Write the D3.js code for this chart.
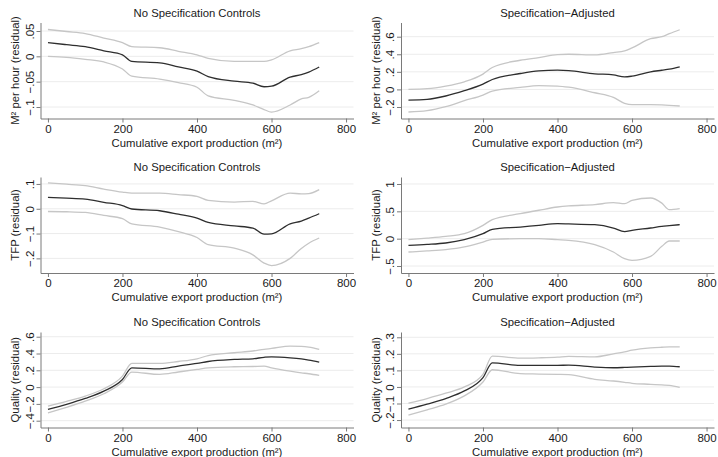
<!DOCTYPE html>
<html>
<head>
<meta charset="utf-8">
<script src="https://cdn.jsdelivr.net/npm/d3@7"></script>
<style>
  body { margin: 0; background: #fff; }
  text { font-family: "Liberation Sans", Arial, sans-serif; fill: #1a1a1a; }
  .axis path, .axis line { stroke: #7a7a7a; }
</style>
</head>
<body>
<svg id="chart" width="718" height="457"></svg>
<script>
// x grid shared by every panel (cumulative export production, m2)
const xs = [0, 50, 100, 150, 200, 225, 300, 350, 400, 430, 500, 550, 580, 600, 650, 680, 700, 728];

// M2 per hour, no specification controls
const m2NoMid = [0.027, 0.023, 0.019, 0.011, 0.003, -0.010, -0.013, -0.021, -0.029, -0.040, -0.049, -0.053, -0.060, -0.059, -0.041, -0.036, -0.031, -0.021];
const m2NoHi  = [0.053, 0.049, 0.045, 0.036, 0.027, 0.019, 0.017, 0.010, 0.003, -0.004, -0.010, -0.010, -0.010, -0.007, 0.011, 0.015, 0.019, 0.027];
const m2NoLo  = [0.000, -0.002, -0.006, -0.011, -0.025, -0.039, -0.045, -0.052, -0.061, -0.078, -0.087, -0.096, -0.105, -0.110, -0.096, -0.084, -0.081, -0.068];

// M2 per hour, specification-adjusted
const m2AdjMid = [-0.121, -0.113, -0.075, -0.015, 0.060, 0.113, 0.181, 0.211, 0.219, 0.214, 0.178, 0.165, 0.143, 0.151, 0.200, 0.218, 0.230, 0.257];
const m2AdjHi  = [0.000, 0.008, 0.038, 0.087, 0.174, 0.249, 0.332, 0.362, 0.396, 0.400, 0.392, 0.419, 0.438, 0.472, 0.577, 0.600, 0.634, 0.679];
const m2AdjLo  = [-0.257, -0.242, -0.196, -0.128, -0.064, -0.019, 0.023, 0.042, 0.038, 0.025, -0.038, -0.091, -0.158, -0.174, -0.174, -0.177, -0.181, -0.189];

// TFP, no specification controls
const tfpNoMid = [0.046, 0.043, 0.039, 0.026, 0.013, -0.001, -0.008, -0.022, -0.038, -0.055, -0.069, -0.078, -0.102, -0.101, -0.061, -0.050, -0.038, -0.020];
const tfpNoHi  = [0.104, 0.099, 0.093, 0.079, 0.067, 0.063, 0.063, 0.057, 0.050, 0.034, 0.027, 0.030, 0.020, 0.032, 0.063, 0.060, 0.061, 0.077];
const tfpNoLo  = [-0.011, -0.012, -0.015, -0.027, -0.040, -0.061, -0.074, -0.092, -0.116, -0.145, -0.159, -0.186, -0.219, -0.229, -0.200, -0.160, -0.139, -0.118];

// TFP, specification-adjusted
const tfpAdjMid = [-0.122, -0.105, -0.079, -0.018, 0.091, 0.171, 0.213, 0.245, 0.274, 0.270, 0.256, 0.195, 0.128, 0.152, 0.195, 0.225, 0.238, 0.256];
const tfpAdjHi  = [-0.018, 0.010, 0.043, 0.091, 0.244, 0.348, 0.457, 0.520, 0.579, 0.600, 0.622, 0.659, 0.640, 0.701, 0.744, 0.650, 0.530, 0.549];
const tfpAdjLo  = [-0.244, -0.225, -0.201, -0.152, -0.061, -0.012, 0.000, 0.000, -0.018, -0.030, -0.110, -0.244, -0.366, -0.396, -0.323, -0.140, -0.043, -0.043];

// Quality, no specification controls
const qNoMid = [-0.266, -0.205, -0.135, -0.048, 0.091, 0.230, 0.218, 0.250, 0.282, 0.305, 0.329, 0.337, 0.355, 0.361, 0.349, 0.335, 0.321, 0.298];
const qNoHi  = [-0.226, -0.170, -0.107, -0.020, 0.131, 0.282, 0.282, 0.305, 0.337, 0.375, 0.409, 0.430, 0.450, 0.460, 0.488, 0.485, 0.476, 0.448];
const qNoLo  = [-0.306, -0.240, -0.167, -0.079, 0.060, 0.179, 0.151, 0.180, 0.210, 0.230, 0.242, 0.245, 0.250, 0.230, 0.190, 0.170, 0.159, 0.139];

// Quality, specification-adjusted
const qAdjMid = [-0.134, -0.104, -0.070, -0.024, 0.056, 0.146, 0.130, 0.130, 0.130, 0.132, 0.120, 0.116, 0.118, 0.120, 0.124, 0.126, 0.126, 0.122];
const qAdjHi  = [-0.098, -0.070, -0.038, 0.000, 0.076, 0.186, 0.174, 0.176, 0.180, 0.185, 0.182, 0.200, 0.212, 0.222, 0.236, 0.240, 0.242, 0.242];
const qAdjLo  = [-0.170, -0.138, -0.104, -0.054, 0.030, 0.104, 0.080, 0.078, 0.076, 0.074, 0.046, 0.036, 0.028, 0.022, 0.016, 0.012, 0.010, -0.002];

const xTicks = [0, 200, 400, 600, 800];
const m2NoTicks = [-0.1, -0.05, 0, 0.05];
const m2AdjTicks = [-0.2, 0, 0.2, 0.4, 0.6];
const tfpNoTicks = [-0.2, -0.1, 0, 0.1];
const tfpAdjTicks = [-0.5, 0, 0.5, 1];
const qNoTicks = [-0.4, -0.2, 0, 0.2, 0.4, 0.6];
const qAdjTicks = [-0.2, -0.1, 0, 0.1, 0.2, 0.3];

const titles = ['No Specification Controls', 'Specification\u2212Adjusted'];
const yTitles = ['M\u00b2 per hour (residual)', 'TFP (residual)', 'Quality (residual)'];
const xTitle = 'Cumulative export production (m\u00b2)';

const panels = [
  { row: 0, col: 0, mid: m2NoMid, hi: m2NoHi, lo: m2NoLo, ticks: m2NoTicks, dom: [-0.1227, 0.0668] },
  { row: 0, col: 1, mid: m2AdjMid, hi: m2AdjHi, lo: m2AdjLo, ticks: m2AdjTicks, dom: [-0.331, 0.7615] },
  { row: 1, col: 0, mid: tfpNoMid, hi: tfpNoHi, lo: tfpNoLo, ticks: tfpNoTicks, dom: [-0.259, 0.128] },
  { row: 1, col: 1, mid: tfpAdjMid, hi: tfpAdjHi, lo: tfpAdjLo, ticks: tfpAdjTicks, dom: [-0.628, 1.128] },
  { row: 2, col: 0, mid: qNoMid, hi: qNoHi, lo: qNoLo, ticks: qNoTicks, dom: [-0.481, 0.656] },
  { row: 2, col: 1, mid: qAdjMid, hi: qAdjHi, lo: qAdjLo, ticks: qAdjTicks, dom: [-0.245, 0.332] }
];

// layout
const colLeft = [40.5, 401];
const plotW = 313;
const rowTop = [22.5, 177, 332];
const rowBottom = [118.5, 273, 427.5];

const svg = d3.select('#chart');

// Stata style labels: .05, -.1, 0
const fmt = (v) => {
  let s = String(+v.toFixed(3));
  s = s.replace(/^(-?)0\./, '$1.');
  return s.replace('-', '\u2212');
};

const drawPanel = (p) => {
  const left = colLeft[p.col];
  const top = rowTop[p.row];
  const bottom = rowBottom[p.row];

  const x = d3.scaleLinear().domain([-20, 820]).range([left, left + plotW]);
  const y = d3.scaleLinear().domain(p.dom).range([bottom, top]);

  const g = svg.append('g');

  // gridlines
  g.selectAll('line.grid')
    .data(p.ticks)
    .enter()
    .append('line')
    .attr('class', 'grid')
    .attr('x1', left)
    .attr('x2', left + plotW)
    .attr('y1', (d) => y(d))
    .attr('y2', (d) => y(d))
    .attr('stroke', '#ececec')
    .attr('stroke-width', 1);

  // lines
  const line = d3.line()
    .x((d, i) => x(xs[i]))
    .y((d) => y(d))
    .curve(d3.curveMonotoneX);

  [[p.hi, '#c6c6c6'], [p.lo, '#c6c6c6'], [p.mid, '#2e2e2e']].forEach(([vals, color]) => {
    g.append('path')
      .datum(vals)
      .attr('d', line)
      .attr('fill', 'none')
      .attr('stroke', color)
      .attr('stroke-width', 1.3);
  });

  // axes
  const xAxis = g.append('g')
    .attr('class', 'axis')
    .attr('transform', `translate(0,${bottom})`)
    .call(d3.axisBottom(x).tickValues(xTicks).tickSize(4).tickPadding(2).tickSizeOuter(0));
  xAxis.selectAll('text').style('font-size', '11.5px');

  const yAxis = g.append('g')
    .attr('class', 'axis')
    .attr('transform', `translate(${left},0)`)
    .call(d3.axisLeft(y).tickValues(p.ticks).tickFormat(fmt).tickSize(4).tickSizeOuter(0));
  yAxis.selectAll('text')
    .style('font-size', '11.5px')
    .attr('text-anchor', 'middle')
    .attr('x', 0)
    .attr('y', -7)
    .attr('dy', 0)
    .attr('transform', 'rotate(-90)');

  // titles
  g.append('text')
    .attr('x', left + plotW / 2)
    .attr('y', top - 9.5)
    .attr('dy', '0.35em')
    .attr('text-anchor', 'middle')
    .style('font-size', '11.3px')
    .text(titles[p.col]);

  g.append('text')
    .attr('x', left + plotW / 2)
    .attr('y', bottom + 24.5)
    .attr('dy', '0.35em')
    .attr('text-anchor', 'middle')
    .style('font-size', '11.3px')
    .text(xTitle);

  g.append('text')
    .attr('transform', `translate(${left - 25},${(top + bottom) / 2}) rotate(-90)`)
    .attr('dy', '0.35em')
    .attr('text-anchor', 'middle')
    .style('font-size', '11.3px')
    .text(yTitles[p.row]);
};

panels.forEach(drawPanel);
</script>
</body>
</html>
